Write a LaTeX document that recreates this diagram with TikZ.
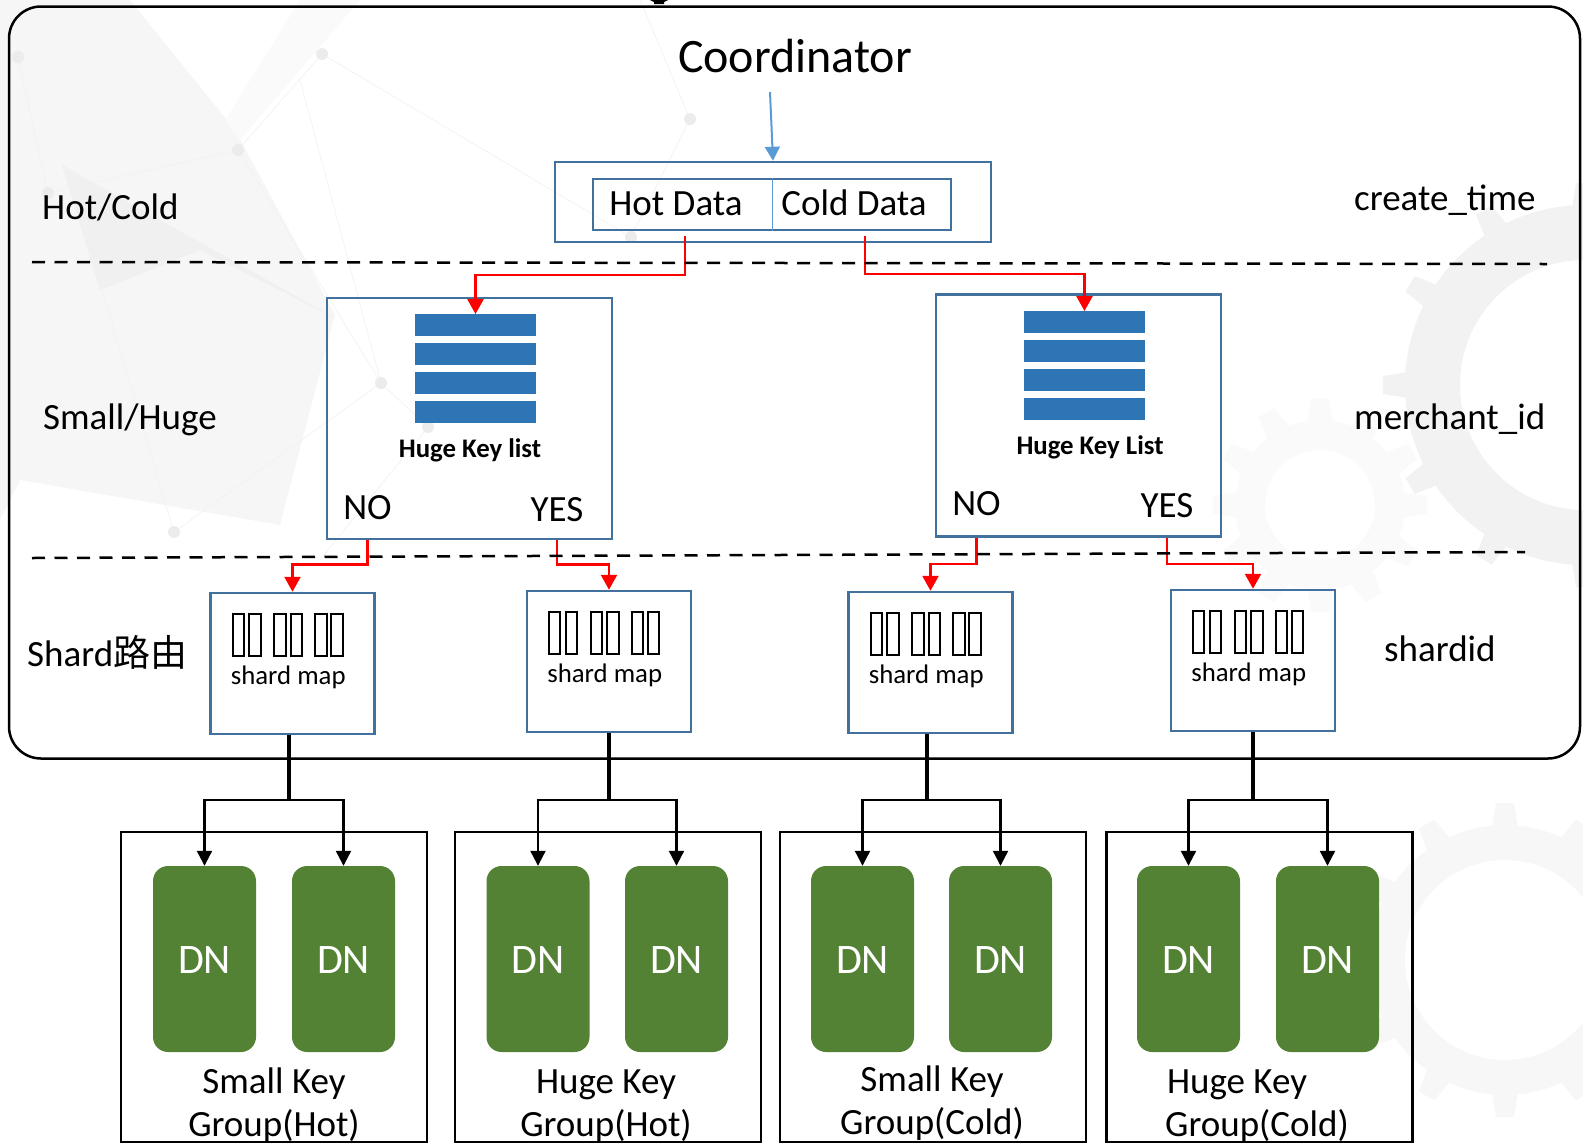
\documentclass[tikz,border=0pt]{standalone}
\usepackage{fontspec}
\setmainfont{Carlito}
\newfontfamily\cjkfont{Noto Sans CJK SC}
\usetikzlibrary{arrows.meta}
\definecolor{boxBlue}{HTML}{41719C}
\definecolor{barBlue}{HTML}{2E75B6}
\definecolor{inBlue}{HTML}{5B9BD5}
\definecolor{dnGreen}{HTML}{548235}
\newcommand{\bggear}[5]{%
  \fill[#5,even odd rule] (#1,#2) circle[radius=#3] (#1,#2) circle[radius=#4];
  \foreach \a in {0,30,...,330}
  {
    \fill[#5,shift={(#1,#2)},rotate=\a] (#3-3,-13) -- (#3+22,-9) -- (#3+22,9) -- (#3-3,13) -- cycle;
  }
}
\begin{document}
\begin{tikzpicture}
[x=1pt,y=-1pt,
  frameBox/.style={shape=rectangle,draw=black,line width=2.5pt,rounded corners=32pt,minimum width=1571pt,minimum height=752pt},
  blueBox/.style={shape=rectangle,draw=boxBlue,line width=2.5pt,inner sep=0pt},
  barDecorate/.style={shape=rectangle,fill=barBlue,draw=none,inner sep=0pt,minimum width=121pt,minimum height=21.5pt},
  groupBox/.style={shape=rectangle,draw=black,line width=2.5pt,inner sep=0pt,minimum width=306pt,minimum height=310pt},
  dnDecorate/.style={shape=rectangle,fill=dnGreen,draw=none,rounded corners=15pt,inner sep=0pt,minimum width=103pt,minimum height=186pt},
  bigText/.style={anchor=base,inner sep=0pt,font=\fontsize{37}{40}\selectfont},
  leftText/.style={bigText,anchor=base west},
  listText/.style={anchor=base,inner sep=0pt,font=\bfseries\fontsize{26.8}{30}\selectfont},
  mapText/.style={anchor=base,inner sep=0pt,font=\fontsize{26.8}{30}\selectfont},
  redArrow/.style={draw=red,line width=2.5pt,-{Triangle[width=16pt,length=15pt]}},
  blackArrow/.style={draw=black,line width=2.2pt,-{Triangle[width=15pt,length=15pt]}},
  blueArrow/.style={draw=inBlue,line width=2pt,-{Triangle[width=15pt,length=14pt]}},
  cutLine/.style={draw=black,line width=2.5pt,dash pattern=on 13pt off 9.5pt},
  tofuBox/.style={draw=black,line width=2pt}]
\useasboundingbox (0,0) rectangle (1583,1144);
%% faint backdrop
\fill[gray!7] (0,0) -- (130,0) -- (235,130) -- (335,315) -- (280,525) -- (20,480) -- (0,520) -- cycle;
\fill[gray!12] (62,165) -- (335,318) -- (200,250) -- (100,290) -- cycle;
\fill[gray!4] (300,0) -- (360,0) -- (240,140) -- (225,120) -- cycle;
\draw[gray!10,line width=0.7pt] (18,57) -- (48,193) -- (238,150) -- (322,54);
\draw[gray!10,line width=0.7pt] (238,150) -- (381,383) -- (174,532) -- (90,250);
\draw[gray!10,line width=0.7pt] (300,80) -- (381,383) -- (428,427) -- (320,560);
\draw[gray!10,line width=0.7pt] (322,54) -- (631,237) -- (690,119) -- (640,0);
\foreach \x/\y in {18/57,48/193,238/150,322/54,381/383,428/427,174/532,631/237,690/119}
{
  \fill[gray!15] (\x,\y) circle[radius=6];
}
\bggear{1320}{505}{85}{55}{gray!4}
\bggear{1585}{385}{180}{125}{gray!10}
\bggear{1505}{960}{135}{100}{gray!6}
%% outer frame
\node (frame) at (794.5,382.5) [frameBox] {};
\fill[black] (650,0) -- (668,0) -- (664,2) -- (664,4) -- (654,4) -- (654,2) -- cycle;
%% titles and row labels
\node (coordinator) at (795,72) [bigText,font=\fontsize{48}{50}\selectfont] {Coordinator};
\node (hotcold) at (42,219) [leftText] {Hot/Cold};
\node (smallhuge) at (43,429) [leftText] {Small/Huge};
\node (shardrow) at (27,666) [leftText] {Shard{\cjkfont 路由}};
\node (createtime) at (1354,210) [leftText] {create\_time};
\node (merchantid) at (1354,429) [leftText] {merchant\_id};
\node (shardid) at (1384,661) [leftText] {shardid};
%% hot and cold split
\node (split) at (773,202) [blueBox,minimum width=436pt,minimum height=80pt] {};
\node (cells) at (772,204.5) [blueBox,minimum width=358pt,minimum height=51pt] {};
\draw[draw=inBlue,line width=1pt] (cells.north) -- (cells.south);
\node (hottext) at (676,215) [bigText] {Hot Data};
\node (coldtext) at (854,215) [bigText] {Cold Data};
\coordinate (hotout) at (685,236);
\coordinate (coldout) at (865,236);
\coordinate (incoming) at (770,92);
%% huge key boxes
\node (hugeL) at (469.5,418.5) [blueBox,minimum width=285pt,minimum height=241pt] {};
\node (hugeR) at (1078.5,415.5) [blueBox,minimum width=285pt,minimum height=242pt] {};
\foreach \nodename/\x/\y in {
  listL1/475.5/325, listL2/475.5/354, listL3/475.5/383, listL4/475.5/412,
  listR1/1084.5/322, listR2/1084.5/351, listR3/1084.5/380, listR4/1084.5/409}
{
  \node (\nodename) at (\x,\y) [barDecorate] {};
}
\node (listtextL) at (470,457.5) [listText] {Huge Key list};
\node (listtextR) at (1090,454) [listText] {Huge Key List};
\foreach \nodename/\x/\y/\txt in {
  noL/367.5/519/NO, yesL/557/521/YES, noR/976.5/515/NO, yesR/1167/517/YES}
{
  \node (\nodename) at (\x,\y) [bigText] {\txt};
}
%% shard map boxes
\foreach \nodename/\x/\y in {
  mapA/292.5/663.5, mapB/609/661.5, mapC/930.5/662.5, mapD/1253/660.5}
{
  \node (\nodename) at (\x,\y) [blueBox,minimum width=164pt,minimum height=141pt] {};
  \node (\nodename text) at ([shift={(79,92.5)}]\nodename.north west) [mapText] {shard map};
  \foreach \dx in {23.3,40,65,81.7,106,122}
  {
    \draw[tofuBox] ([shift={(\dx,22.3)}]\nodename.north west) rectangle ++(11.3,42);
  }
}
%% key groups and data nodes
\foreach \nodename/\x in {groupA/274, groupB/608, groupC/933, groupD/1259.5}
{
  \node (\nodename) at (\x,987) [groupBox] {};
}
\foreach \nodename/\x in {
  dnA1/204.5, dnA2/343.5, dnB1/538, dnB2/676.5, dnC1/862.5, dnC2/1000.5, dnD1/1188.5, dnD2/1327.5}
{
  \node (\nodename) at (\x,959) [dnDecorate] {};
  \node (\nodename text) at (\x,973.5) [bigText,text=white,font=\fontsize{42}{44}\selectfont] {DN};
}
\foreach \nodename/\x/\y/\txt in {
  smallA/274/1093/Small Key, smallB/274/1136/Group(Hot),
  hugeB/606/1093/Huge Key, hugeC/606/1136/Group(Hot),
  smallD/932/1091/Small Key, smallE/932/1134/Group(Cold),
  hugeF/1237/1093/Huge Key, hugeG/1257/1136/Group(Cold)}
{
  \node (\nodename) at (\x,\y) [bigText] {\txt};
}
%% connectors
\draw[blueArrow] (incoming) -- (split.north -| 773,0);
\draw[redArrow] (hotout) |- (475.5,275) -- (listL1.north);
\draw[redArrow] (coldout) |- (1084.5,274) -- (listR1.north);
\draw[redArrow] (noL |- hugeL.south) -- ++(0,24) -| (mapA.north);
\draw[redArrow] (yesL |- hugeL.south) -- ++(0,24) -| (mapB.north);
\draw[redArrow] (noR |- hugeR.south) -- ++(0,26) -| (mapC.north);
\draw[redArrow] (yesR |- hugeR.south) -- ++(0,26) -| (mapD.north);
\foreach \nodename/\x/\lefty/\righty in {
  mapA/289/dnA1/dnA2, mapB/609/dnB1/dnB2, mapC/927/dnC1/dnC2, mapD/1253/dnD1/dnD2}
{
  \coordinate (\nodename trunk) at (\x,800);
  \draw[draw=black,line width=3.2pt] (\nodename trunk |- \nodename.south) -- (\nodename trunk);
  \draw[blackArrow] (\nodename trunk) -| (\lefty.north);
  \draw[blackArrow] (\nodename trunk) -| (\righty.north);
}
%% dashed row separators
\coordinate (cutA) at (32,262);
\coordinate (cutB) at (1547,264);
\coordinate (cutC) at (32,558);
\coordinate (cutD) at (1525,552);
\draw[cutLine] (cutA) -- (cutB);
\draw[cutLine] (cutC) -- (cutD);
\end{tikzpicture}
\end{document}
